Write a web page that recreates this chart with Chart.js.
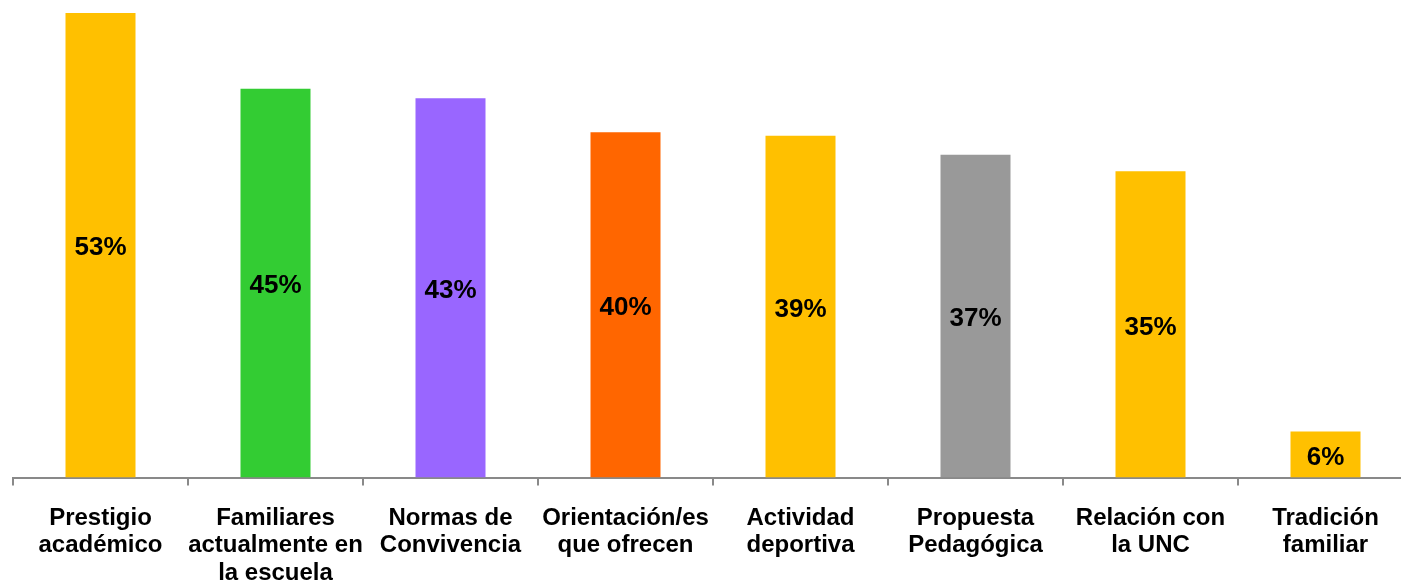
<!DOCTYPE html>
<html>
<head>
<meta charset="utf-8">
<script src="https://cdn.jsdelivr.net/npm/chart.js@4/dist/chart.umd.min.js"></script>
<style>
  html, body { margin: 0; padding: 0; background: #ffffff; overflow: hidden; }
  #wrap { width: 1413px; height: 584px; }
</style>
</head>
<body>
<div id="wrap"><canvas id="c" width="1413" height="584"></canvas></div>
<script>
const categories = [
  ["Prestigio", "académico"],
  ["Familiares", "actualmente en", "la escuela"],
  ["Normas de", "Convivencia"],
  ["Orientación/es", "que ofrecen"],
  ["Actividad", "deportiva"],
  ["Propuesta", "Pedagógica"],
  ["Relación con", "la UNC"],
  ["Tradición", "familiar"]
];
const values = [53.4, 44.7, 43.6, 39.7, 39.3, 37.1, 35.2, 5.3];
const valueLabels = ["53%", "45%", "43%", "40%", "39%", "37%", "35%", "6%"];
const barColors = ["#FFC000", "#33CC33", "#9966FF", "#FF6600", "#FFC000", "#999999", "#FFC000", "#FFC000"];

const centerLabels = {
  id: 'centerLabels',
  afterDatasetsDraw(chart) {
    const ctx = chart.ctx;
    const meta = chart.getDatasetMeta(0);
    ctx.save();
    ctx.font = 'bold 26px "Liberation Sans", Arial, sans-serif';
    ctx.fillStyle = '#000000';
    ctx.textAlign = 'center';
    ctx.textBaseline = 'middle';
    meta.data.forEach((bar, i) => {
      ctx.fillText(valueLabels[i], bar.x, (bar.y + bar.base) / 2 + 3);
    });
    ctx.restore();
  }
};

new Chart(document.getElementById('c'), {
  type: 'bar',
  data: {
    labels: categories,
    datasets: [{
      data: values,
      backgroundColor: barColors,
      borderWidth: 0,
      categoryPercentage: 1,
      barPercentage: 0.4
    }]
  },
  options: {
    responsive: false,
    animation: false,
    devicePixelRatio: 1,
    layout: { padding: { left: 13, right: 0, top: 0, bottom: 0 } },
    plugins: { legend: { display: false }, tooltip: { enabled: false } },
    scales: {
      y: { display: false, min: 0, max: 54.9 },
      x: {
        offset: true,
        afterFit(scale) { scale.height = 106.5; },
        border: { display: true, color: '#898989', width: 2 },
        grid: { offset: true, drawOnChartArea: false, drawTicks: true, tickLength: 8, color: '#898989', lineWidth: 2 },
        ticks: {
          color: '#000000',
          padding: 19,
          maxRotation: 0,
          autoSkip: false,
          font: { family: '"Liberation Sans", Arial, sans-serif', size: 24, weight: 'bold', lineHeight: 1.14 }
        }
      }
    }
  },
  plugins: [centerLabels]
});
</script>
</body>
</html>
